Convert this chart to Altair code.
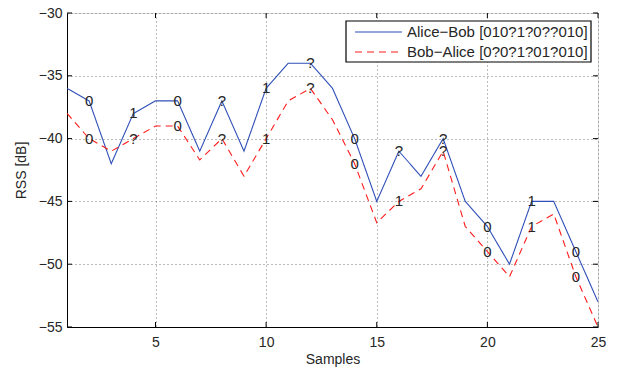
import altair as alt
import pandas as pd

samples = list(range(1, 26))
alice_bob = [-36, -37, -42, -38, -37, -37, -41, -37, -41, -36, -34, -34, -36,
             -40, -45, -41, -43, -40, -45, -47, -50, -45, -45, -49, -53]
bob_alice = [-38, -40, -41, -40, -39, -39, -41.7, -40, -43, -40, -37, -36, -38.5,
             -42, -46.7, -45, -44, -41, -47, -49, -51, -47, -46, -51, -55]
series_names = ["Alice\u2212Bob [010?1?0??010]", "Bob\u2212Alice [0?0?1?01?010]"]
series_colors = ["#2f4fb8", "#ff1a1a"]
series_dash = [[1, 0], [7, 5]]
label_samples = [2, 4, 6, 8, 10, 12, 14, 16, 18, 20, 22, 24]
alice_bits = list("010?1?0??010")
bob_bits = list("0?0?1?01?010")
x_ticks = [5, 10, 15, 20, 25]
y_ticks = [-55, -50, -45, -40, -35, -30]

W, H = 531, 314
FONT = "Liberation Sans"
TXT = "#262626"

rows = []
for s, a, b in zip(samples, alice_bob, bob_alice):
    rows.append({"sample": s, "rss": a, "series": series_names[0]})
    rows.append({"sample": s, "rss": b, "series": series_names[1]})
df = pd.DataFrame(rows)

lab_rows = []
for s, ba, bb in zip(label_samples, alice_bits, bob_bits):
    lab_rows.append({"sample": s, "rss": alice_bob[s - 1], "bit": ba})
    lab_rows.append({"sample": s, "rss": bob_alice[s - 1], "bit": bb})
df_lab = pd.DataFrame(lab_rows)

xscale = alt.Scale(domain=[1, 25], nice=False, zero=False)
yscale = alt.Scale(domain=[-55, -30], nice=False, zero=False)

xaxis = alt.Axis(values=x_ticks, title="Samples", grid=True, gridDash=[1, 3],
                 gridColor="#555555", gridOpacity=0.8, tickSize=0, labelPadding=8,
                 labelFlush=False, labelOverlap=False,
                 domainColor="black", labelFont=FONT, labelFontSize=14, labelColor=TXT,
                 titleFont=FONT, titleFontSize=14, titleColor=TXT, titleFontWeight="normal",
                 titlePadding=3)
yaxis = alt.Axis(values=y_ticks, title="RSS [dB]", grid=True, gridDash=[1, 3],
                 gridColor="#555555", gridOpacity=0.8, tickSize=0, labelPadding=5,
                 labelFlush=False, labelOverlap=False,
                 domainColor="black", labelFont=FONT, labelFontSize=14, labelColor=TXT,
                 titleFont=FONT, titleFontSize=14, titleColor=TXT, titleFontWeight="normal",
                 titlePadding=10)

lines = alt.Chart(df).mark_line(strokeWidth=1.1, clip=True).encode(
    x=alt.X("sample:Q", scale=xscale, axis=xaxis),
    y=alt.Y("rss:Q", scale=yscale, axis=yaxis),
    color=alt.Color("series:N", scale=alt.Scale(domain=series_names, range=series_colors),
                    legend=None),
    strokeDash=alt.StrokeDash("series:N", scale=alt.Scale(domain=series_names, range=series_dash),
                              legend=None),
)

labels = alt.Chart(df_lab).mark_text(font=FONT, fontSize=15, color=TXT, align="center",
                                     baseline="middle").encode(
    x=alt.X("sample:Q", scale=xscale),
    y=alt.Y("rss:Q", scale=yscale),
    text="bit:N",
)

df_xt = pd.DataFrame({"t": x_ticks})
df_yt = pd.DataFrame({"t": y_ticks})
tick_b = alt.Chart(df_xt).mark_rule(color="black").encode(
    x=alt.X("t:Q", scale=xscale), y=alt.value(H), y2=alt.value(H - 5))
tick_t = alt.Chart(df_xt).mark_rule(color="black").encode(
    x=alt.X("t:Q", scale=xscale), y=alt.value(0), y2=alt.value(5))
tick_l = alt.Chart(df_yt).mark_rule(color="black").encode(
    y=alt.Y("t:Q", scale=yscale), x=alt.value(0), x2=alt.value(5))
tick_r = alt.Chart(df_yt).mark_rule(color="black").encode(
    y=alt.Y("t:Q", scale=yscale), x=alt.value(W), x2=alt.value(W - 5))

# legend built from marks (pixel positions inside the plot area)
leg_box = alt.Chart(pd.DataFrame({"k": [0]})).mark_rect(
    fill="white", stroke="black", strokeWidth=1.2).encode(
    x=alt.value(279), x2=alt.value(524), y=alt.value(8), y2=alt.value(49))
leg_items = []
for i, (name, col, dash) in enumerate(zip(series_names, series_colors, series_dash)):
    yy = 19 + 20 * i
    leg_items.append(alt.Chart(pd.DataFrame({"k": [0]})).mark_rule(
        color=col, strokeWidth=1.1, strokeDash=dash).encode(
        x=alt.value(288), x2=alt.value(335), y=alt.value(yy)))
    leg_items.append(alt.Chart(pd.DataFrame({"name": [name]})).mark_text(
        font=FONT, fontSize=15, color=TXT, align="left", baseline="middle").encode(
        x=alt.value(340), y=alt.value(yy), text="name:N"))

chart = alt.layer(lines, labels, tick_b, tick_t, tick_l, tick_r, leg_box, *leg_items).properties(
    width=W, height=H,
    autosize=alt.AutoSizeParams(type="none"),
    padding={"left": 59, "top": 5, "right": 16, "bottom": 40},
).configure_view(stroke="black", strokeWidth=1).configure(background="white")

chart.save("out.html", embed_options={"renderer": "svg", "actions": False})
